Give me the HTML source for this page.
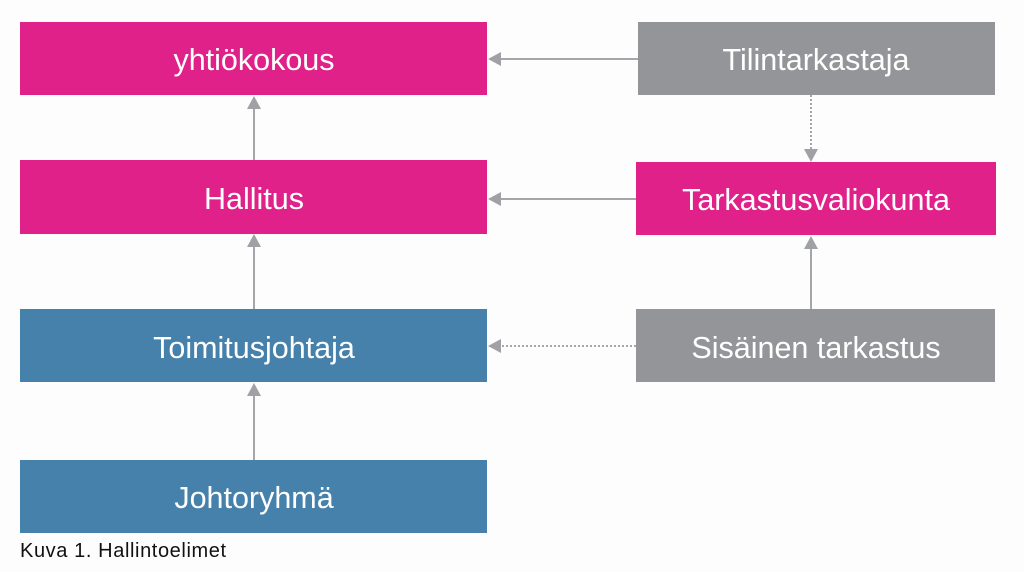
<!DOCTYPE html>
<html><head><meta charset="utf-8"><style>
html,body{margin:0;padding:0;background:#fdfdfd;}
svg{display:block}
text{font-family:"Liberation Sans",sans-serif;}
</style></head><body>
<svg width="1024" height="572" viewBox="0 0 1024 572">
<rect width="1024" height="572" fill="#fdfdfd"/>
<g fill="#e0218a">
<rect x="20" y="22" width="467" height="73"/>
<rect x="20" y="160" width="467" height="74"/>
<rect x="636" y="162" width="360" height="73"/>
</g>
<g fill="#949598">
<rect x="638" y="22" width="357" height="73"/>
<rect x="636" y="309" width="359" height="73"/>
</g>
<g fill="#4581ab">
<rect x="20" y="309" width="467" height="73"/>
<rect x="20" y="460" width="467" height="73"/>
</g>
<g stroke="#a5a6a9" stroke-width="2" fill="none">
<line x1="638" y1="59" x2="500" y2="59"/>
<line x1="636" y1="199" x2="500" y2="199"/>
<line x1="636" y1="346" x2="500" y2="346" stroke-dasharray="2,2"/>
<line x1="811" y1="95" x2="811" y2="150" stroke-dasharray="2,2"/>
<line x1="811" y1="309" x2="811" y2="248"/>
<line x1="254" y1="160" x2="254" y2="108"/>
<line x1="254" y1="309" x2="254" y2="246"/>
<line x1="254" y1="460" x2="254" y2="395"/>
</g>
<g fill="#a0a1a4">
<polygon points="488,59 501,52 501,66"/>
<polygon points="488,199 501,192 501,206"/>
<polygon points="488,346 501,339 501,353"/>
<polygon points="811,162 804,149 818,149"/>
<polygon points="811,236 804,249 818,249"/>
<polygon points="254,96 247,109 261,109"/>
<polygon points="254,234 247,247 261,247"/>
<polygon points="254,383 247,396 261,396"/>
</g>
<g fill="#fff" font-size="30.5" text-anchor="middle">
<text x="254" y="70">yhtiökokous</text>
<text x="254" y="209">Hallitus</text>
<text x="254" y="358">Toimitusjohtaja</text>
<text x="254" y="508">Johtoryhmä</text>
<text x="816" y="70">Tilintarkastaja</text>
<text x="816" y="210">Tarkastusvaliokunta</text>
<text x="816" y="358">Sisäinen tarkastus</text>
</g>
<text x="20" y="557" font-size="20" letter-spacing="0.6" fill="#111">Kuva 1. Hallintoelimet</text>
</svg>
</body></html>
